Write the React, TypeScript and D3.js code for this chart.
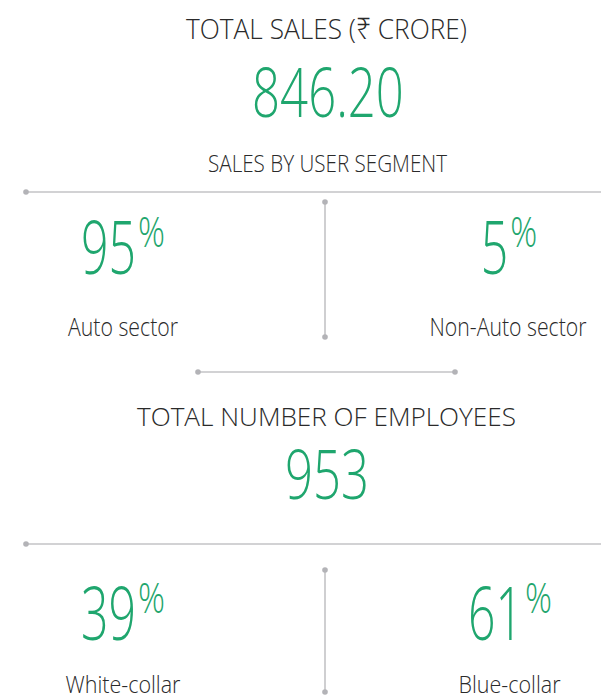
import React from "react";
import * as d3 from "d3";

// ---------- data ----------
const salesTitle = "TOTAL SALES (₹ CRORE)";
const totalSales = 846.2;
const segmentTitle = "SALES BY USER SEGMENT";
const segmentCategories = ["Auto sector", "Non-Auto sector"];
const segmentShares = [95, 5];
const employeesTitle = "TOTAL NUMBER OF EMPLOYEES";
const totalEmployees = 953;
const employeeCategories = ["White-collar", "Blue-collar"];
const employeeShares = [39, 61];

// ---------- layout / style ----------
const W = 601;
const H = 697;
const GREEN = "#1fa66e";
const INK = "#2a2a2a";
const LINE = "#c3c3c6";
const DOT = "#b3b3b7";
const FONT = "'Open Sans', 'Noto Sans', sans-serif";

// measured text widths (px) for the condensed-light look
const textWidths: Record<string, number> = {
  [salesTitle]: 281,
  [segmentTitle]: 239,
  [employeesTitle]: 379,
  "Auto sector": 110,
  "Non-Auto sector": 157,
  "White-collar": 115,
  "Blue-collar": 102,
};

const col = d3.scalePoint<number>().domain([0, 1]).range([123, 509]);
const CX = 327;

function charAdvance(ch: string, fs: number) {
  if (ch === ".") return fs * 0.17;
  return fs * 0.406;
}

function Label({ text, cx, y, fs }: { text: string; cx: number; y: number; fs: number }) {
  const w = textWidths[text];
  return (
    <text
      x={cx - w / 2}
      y={y}
      fontSize={fs}
      fontWeight={300}
      fill={INK}
      fontFamily={FONT}
      textLength={w}
      lengthAdjust="spacingAndGlyphs"
    >
      {text}
    </text>
  );
}

function BigNumber({ text, cx, y }: { text: string; cx: number; y: number }) {
  const fs = 69;
  const w = d3.sum(text.split(""), (c) => charAdvance(c, fs));
  return (
    <text
      x={cx - w / 2}
      y={y}
      fontSize={fs}
      fontWeight={300}
      fill={GREEN}
      fontFamily={FONT}
      textLength={w}
      lengthAdjust="spacingAndGlyphs"
    >
      {text}
    </text>
  );
}

function Percent({ value, cx, y }: { value: number; cx: number; y: number }) {
  const s = String(value);
  const digitW = 27.5;
  const gap = 2;
  const pctW = 27;
  const numW = s.length * digitW;
  const total = numW + gap + pctW;
  const left = cx - total / 2;
  return (
    <text fontWeight={300} fill={GREEN} fontFamily={FONT}>
      <tspan x={left} y={y} fontSize={74} textLength={numW} lengthAdjust="spacingAndGlyphs">
        {s}
      </tspan>
      <tspan
        x={left + numW + gap}
        y={y - 27}
        fontSize={42}
        textLength={pctW}
        lengthAdjust="spacingAndGlyphs"
      >
        %
      </tspan>
    </text>
  );
}

function Rule({ x1, y1, x2, y2, dots }: { x1: number; y1: number; x2: number; y2: number; dots: ("start" | "end")[] }) {
  return (
    <g>
      <line x1={x1} y1={y1} x2={x2} y2={y2} stroke={LINE} strokeWidth={1.6} />
      {dots.includes("start") && <circle cx={x1} cy={y1} r={2.8} fill={DOT} />}
      {dots.includes("end") && <circle cx={x2} cy={y2} r={2.8} fill={DOT} />}
    </g>
  );
}

export default function App() {
  const fmt2 = d3.format(".2f");
  return (
    <svg
      width={W}
      height={H}
      viewBox={`0 0 ${W} ${H}`}
      style={{ position: "absolute", left: 0, top: 0, background: "#fff" }}
    >
      <rect width={W} height={H} fill="#fff" />
      <Label text={salesTitle} cx={326.5} y={39} fs={28} />
      <BigNumber text={fmt2(totalSales)} cx={CX + 1} y={117} />
      <Label text={segmentTitle} cx={327.5} y={172} fs={24} />

      <Rule x1={26} y1={192} x2={W} y2={192} dots={["start"]} />
      <Rule x1={325} y1={202} x2={325} y2={337} dots={["start", "end"]} />

      {segmentShares.map((v, i) => (
        <g key={segmentCategories[i]}>
          <Percent value={v} cx={col(i)!} y={274} />
          <Label text={segmentCategories[i]} cx={col(i)! - (i === 1 ? 1 : 0)} y={336} fs={25} />
        </g>
      ))}

      <Rule x1={198} y1={372} x2={455} y2={372} dots={["start", "end"]} />

      <Label text={employeesTitle} cx={326.5} y={426} fs={25} />
      <BigNumber text={String(totalEmployees)} cx={CX} y={499} />

      <Rule x1={26} y1={544} x2={W} y2={544} dots={["start"]} />
      <Rule x1={325} y1={570} x2={325} y2={692} dots={["start", "end"]} />

      {employeeShares.map((v, i) => (
        <g key={employeeCategories[i]}>
          <Percent value={v} cx={col(i)! + (i === 1 ? 1 : 0)} y={640} />
          <Label text={employeeCategories[i]} cx={col(i)! + (i === 1 ? 0.5 : 0)} y={693} fs={24} />
        </g>
      ))}
    </svg>
  );
}
